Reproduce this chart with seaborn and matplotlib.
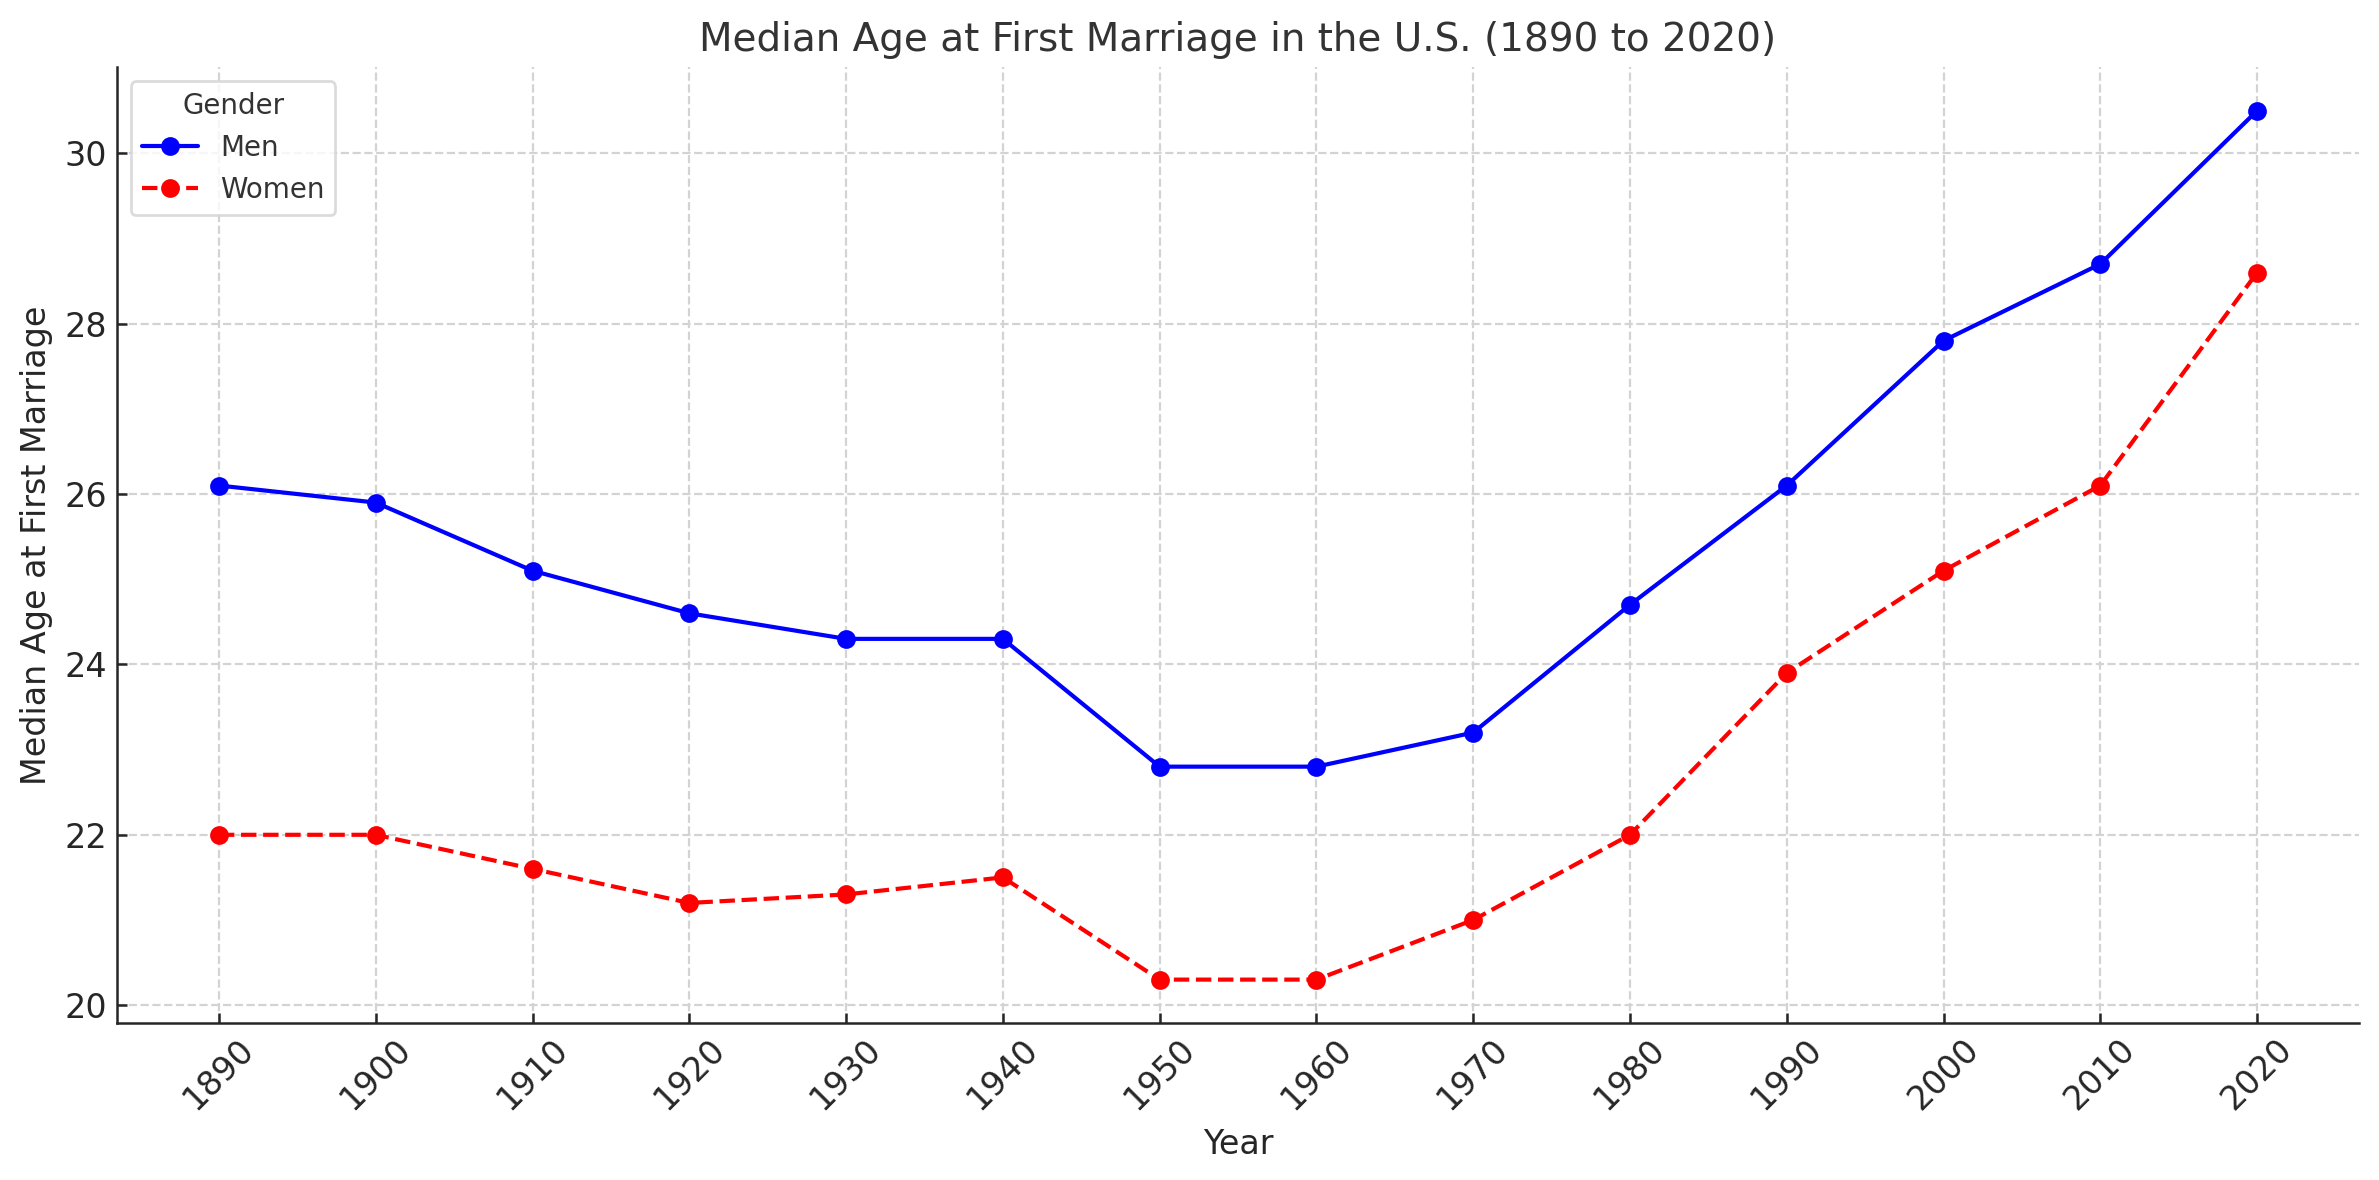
import matplotlib
matplotlib.use("Agg")
import matplotlib.pyplot as plt
import seaborn as sns
import pandas as pd

years = [1890, 1900, 1910, 1920, 1930, 1940, 1950, 1960, 1970, 1980, 1990, 2000, 2010, 2020]
men = [26.1, 25.9, 25.1, 24.6, 24.3, 24.3, 22.8, 22.8, 23.2, 24.7, 26.1, 27.8, 28.7, 30.5]
women = [22.0, 22.0, 21.6, 21.2, 21.3, 21.5, 20.3, 20.3, 21.0, 22.0, 23.9, 25.1, 26.1, 28.6]

sns.set_style("ticks")
plt.rcParams.update({
    "font.family": ["DejaVu Sans"],
    "xtick.direction": "in",
    "ytick.direction": "in",
    "axes.edgecolor": "#262626",
    "text.color": "#333333",
    "axes.labelcolor": "#262626",
    "xtick.color": "#262626",
    "ytick.color": "#262626",
})

df_men = pd.DataFrame({"Year": years, "Age": men})
df_women = pd.DataFrame({"Year": years, "Age": women})

fig, ax = plt.subplots(figsize=(2379 / 200, 1180 / 200), dpi=200)
fig.subplots_adjust(left=0.0492, right=0.9916, top=0.943, bottom=0.133)

sns.lineplot(data=df_men, x="Year", y="Age", ax=ax, color="blue", marker="o",
             markeredgecolor="blue", markersize=6, linewidth=1.5, label="Men")
sns.lineplot(data=df_women, x="Year", y="Age", ax=ax, color="red", marker="o",
             markeredgecolor="red", markersize=6, linewidth=1.5, linestyle="--", label="Women")

ax.set_title("Median Age at First Marriage in the U.S. (1890 to 2020)", fontsize=14, color="#333333")
ax.set_xlabel("Year", fontsize=12)
ax.set_ylabel("Median Age at First Marriage", fontsize=12)
ax.set_xticks(years)
ax.set_xticklabels([str(y) for y in years], rotation=45)
ax.tick_params(axis="both", labelsize=12, width=0.9, length=3.5)
ax.grid(True, linestyle="--", color="#d3d3d3", linewidth=0.8)
for s in ["top", "right"]:
    ax.spines[s].set_visible(False)
for s in ["left", "bottom"]:
    ax.spines[s].set_linewidth(0.9)

leg = ax.legend(title="Gender", loc="upper left", fontsize=10, title_fontsize=10,
                frameon=True, fancybox=True)
leg.get_frame().set_edgecolor("#d3d3d3")

fig.savefig("out.png", dpi=200)
